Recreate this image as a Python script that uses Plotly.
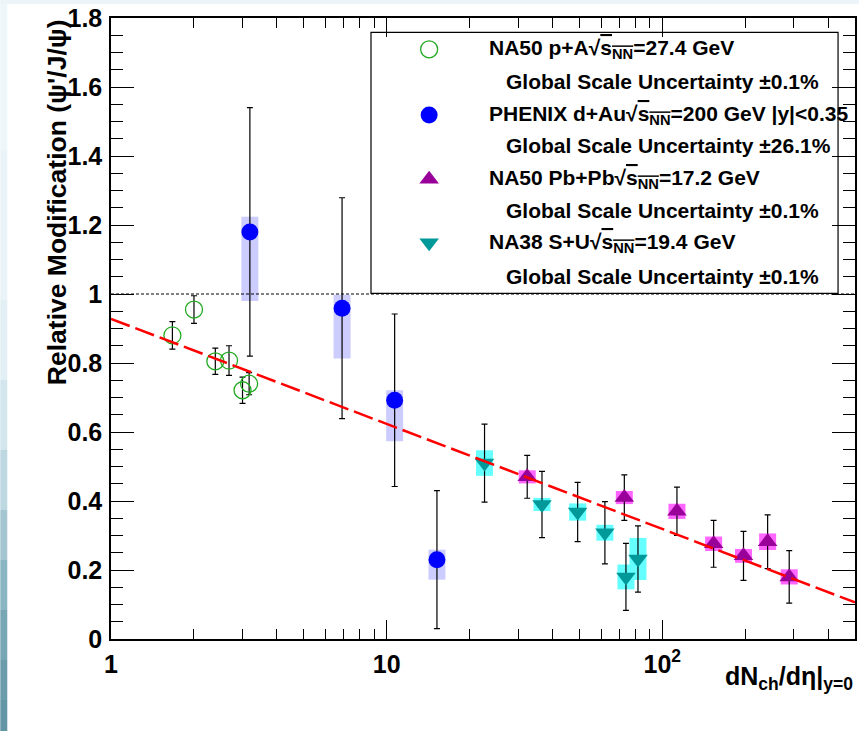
import math
import plotly.graph_objects as go

# ---------------- data ----------------
pA_x = [1.67, 2.00, 2.39, 2.68, 3.00, 3.17]
pA_y = [0.880, 0.955, 0.805, 0.807, 0.721, 0.740]
pA_err = [0.040, 0.040, 0.038, 0.043, 0.038, 0.032]

dAu_x = [3.19, 6.89, 10.69, 15.22]
dAu_y = [1.180, 0.959, 0.692, 0.230]
dAu_err = [0.36, 0.32, 0.25, 0.20]
dAu_sys_hi = [0.044, 0.039, 0.029, 0.029]
dAu_sys_lo = [0.200, 0.146, 0.119, 0.058]

SU_x = [22.65, 36.6, 49.3, 61.9, 73.8, 81.6]
SU_y = [0.51, 0.39, 0.368, 0.308, 0.18, 0.232]
SU_err = [0.113, 0.096, 0.086, 0.090, 0.097, 0.096]
SU_sys = [0.037, 0.019, 0.025, 0.023, 0.036, 0.061]

PbPb_x = [32.35, 72.8, 113, 153.5, 197, 241, 288.6]
PbPb_y = [0.47, 0.41, 0.37, 0.276, 0.241, 0.282, 0.18]
PbPb_err = [0.062, 0.066, 0.070, 0.068, 0.071, 0.078, 0.076]
PbPb_sys = [0.019, 0.019, 0.022, 0.021, 0.020, 0.024, 0.022]

fit_x = [1, 500]
fit_y = [0.928, 0.106]
ref_x = [1, 500]
ref_y = [1.0, 1.0]

x_tickvals = [1, 10, 100]
x_ticktext = ["1", "10", "10<sup>2</sup>"]
x_minor = [2, 3, 4, 5, 6, 7, 8, 9, 20, 30, 40, 50, 60, 70, 80, 90, 200, 300, 400]

legend_labels = [
    "NA50 p+A\u221a<span style='text-decoration:overline'>s<sub>NN</sub></span>=27.4 GeV",
    "PHENIX d+Au\u221a<span style='text-decoration:overline'>s<sub>NN</sub></span>=200 GeV |y|<0.35",
    "NA50 Pb+Pb\u221a<span style='text-decoration:overline'>s<sub>NN</sub></span>=17.2 GeV",
    "NA38 S+U\u221a<span style='text-decoration:overline'>s<sub>NN</sub></span>=19.4 GeV",
]
legend_unc = [
    "Global Scale Uncertainty \u00b10.1%",
    "Global Scale Uncertainty \u00b126.1%",
    "Global Scale Uncertainty \u00b10.1%",
    "Global Scale Uncertainty \u00b10.1%",
]

# ---------------- styles ----------------
GREEN = "#22aa22"
BLUE = "#0000ff"
BLUE_BOX = "#ccccff"
TEAL = "#009999"
CYAN_BOX = "#66ffff"
PURPLE = "#990099"
MAG_BOX = "#ff66ff"
FONT = "Liberation Sans"

W, H = 861, 731
ML, MR, MT, MB = 111, 4, 18, 92
PW, PH = W - ML - MR, H - MT - MB


def px2paper(px, py):
    return (px - ML) / PW, (H - MB - py) / PH


fig = go.Figure()


def box_trace(x, y, hi, lo, color):
    return go.Scatter(
        x=x, y=y, mode="markers",
        marker=dict(size=1, color="rgba(0,0,0,0)"),
        error_y=dict(type="data", symmetric=False, array=hi, arrayminus=lo,
                     thickness=17, width=0, color=color),
        showlegend=False, hoverinfo="skip")


# systematic boxes
fig.add_trace(box_trace(dAu_x, dAu_y, dAu_sys_hi, dAu_sys_lo, BLUE_BOX))
fig.add_trace(box_trace(SU_x, SU_y, SU_sys, SU_sys, CYAN_BOX))
fig.add_trace(box_trace(PbPb_x, PbPb_y, PbPb_sys, PbPb_sys, MAG_BOX))

# reference line at 1
fig.add_trace(go.Scatter(x=ref_x, y=ref_y, mode="lines",
                         line=dict(color="black", width=1.2, dash="3px,2px"),
                         hoverinfo="skip"))


def data_trace(x, y, err, symbol, color, size, lw=0):
    return go.Scatter(
        x=x, y=y, mode="markers",
        marker=dict(symbol=symbol, size=size, color=color,
                    line=dict(width=lw, color=color)),
        error_y=dict(type="data", array=err, thickness=1.2, width=3, color="black"),
        hoverinfo="skip")


fig.add_trace(data_trace(pA_x, pA_y, pA_err, "circle-open", GREEN, 17, 1.3))
fig.add_trace(data_trace(dAu_x, dAu_y, dAu_err, "circle", BLUE, 17))
fig.add_trace(data_trace(SU_x, SU_y, SU_err, "triangle-down", TEAL, 17))
fig.add_trace(data_trace(PbPb_x, PbPb_y, PbPb_err, "triangle-up", PURPLE, 17))

# fit line
fig.add_trace(go.Scatter(x=fit_x, y=fit_y, mode="lines",
                         line=dict(color="#ff0000", width=2.5, dash="20px,6px"),
                         hoverinfo="skip"))

# ---------------- legend (custom box) ----------------
lx0, ly0 = px2paper(371.7, 293.3)
lx1, ly1 = px2paper(840, 32.3)
fig.add_shape(type="rect", xref="paper", yref="paper", x0=lx0, y0=ly0, x1=lx1, y1=ly1,
              line=dict(color="black", width=1.2), fillcolor="rgba(0,0,0,0)", layer="above")

row_y = [49.3, 115, 179.3, 242.7]
row2_y = [81.7, 145, 210.7, 276]
leg_sym = [("circle-open", GREEN, 17, 1.3), ("circle", BLUE, 17, 0),
           ("triangle-up", PURPLE, 17, 0), ("triangle-down", TEAL, 17, 0)]
mk_x = px2paper(430, 0)[0]
for i in range(4):
    sym, col, sz, lw = leg_sym[i]
    yy = px2paper(0, row_y[i])[1]
    fig.add_trace(go.Scatter(x=[mk_x], y=[yy], xaxis="x2", yaxis="y2", mode="markers",
                             marker=dict(symbol=sym, size=sz, color=col,
                                         line=dict(width=lw, color=col)),
                             hoverinfo="skip"))
    fig.add_annotation(xref="paper", yref="paper", x=px2paper(488, 0)[0], y=yy,
                       xanchor="left", yanchor="middle", text=legend_labels[i],
                       showarrow=False, font=dict(family=FONT, size=21, color="black", weight="bold"))
    fig.add_annotation(xref="paper", yref="paper", x=px2paper(505, 0)[0],
                       y=px2paper(0, row2_y[i])[1],
                       xanchor="left", yanchor="middle", text=legend_unc[i],
                       showarrow=False, font=dict(family=FONT, size=21, color="black", weight="bold"))

# ---------------- axis titles ----------------
fig.add_annotation(xref="paper", yref="paper", x=px2paper(57, 0)[0], y=px2paper(0, 202)[1],
                   text="Relative Modification (\u03c8'/J/\u03c8)", textangle=-90,
                   showarrow=False, xanchor="center", yanchor="middle",
                   font=dict(family=FONT, size=26.5, color="black", weight="bold"))
fig.add_annotation(xref="paper", yref="paper", x=1.0, y=px2paper(0, 660)[1],
                   text="dN<sub>ch</sub>/d\u03b7|<sub>y=0</sub>", showarrow=False,
                   xanchor="right", yanchor="top",
                   font=dict(family=FONT, size=25, color="black", weight="bold"))

# ---------------- slide decoration (left strip / top strip) ----------------
strip_colors = ["#eef6fa", "#eaf4f8", "#e2eff4", "#d3e6ed", "#bdd8e1",
                "#a3c6d1", "#8ab5c2", "#77a6b5", "#6a9cac", "#6295a6"]
band_edges = [0, 150, 300, 380, 450, 510, 560, 610, 660, 700, 731]
for i, c in enumerate(strip_colors):
    xa, ya0 = px2paper(0, band_edges[i + 1])
    xb, ya1 = px2paper(7, band_edges[i])
    fig.add_shape(type="rect", xref="paper", yref="paper", x0=xa, x1=xb, y0=ya0, y1=ya1,
                  line=dict(width=0), fillcolor=c, layer="below")
tx0, ty0 = px2paper(0, 4)
tx1, ty1 = px2paper(861, 0)
fig.add_shape(type="rect", xref="paper", yref="paper", x0=tx0, x1=tx1, y0=ty0, y1=ty1,
              line=dict(width=0), fillcolor="#eef5f9", layer="below")

# ---------------- layout ----------------
tickfont = dict(family=FONT, size=25, color="black", weight="bold")
fig.update_layout(
    width=W, height=H,
    margin=dict(l=ML, r=MR, t=MT, b=MB),
    paper_bgcolor="white", plot_bgcolor="white",
    showlegend=False,
    xaxis=dict(type="log", range=[0, math.log10(500)], showgrid=False, zeroline=False,
               showline=True, linecolor="black", linewidth=1.5, mirror="ticks",
               ticks="inside", ticklen=19, tickwidth=1.3, tickcolor="black",
               tickvals=x_tickvals, ticktext=x_ticktext, tickfont=tickfont,
               ticklabelstandoff=2,
               minor=dict(ticks="inside", ticklen=10, tickwidth=1.3, tickcolor="black",
                          tickvals=x_minor, showgrid=False)),
    yaxis=dict(range=[0, 1.8], tick0=0, dtick=0.2, showgrid=False, zeroline=False,
               showline=True, linecolor="black", linewidth=1.5, mirror="ticks",
               ticks="inside", ticklen=23, tickwidth=1.3, tickcolor="black",
               tickfont=tickfont, ticklabelstandoff=2,
               minor=dict(ticks="inside", ticklen=12, tickwidth=1.3, tickcolor="black",
                          dtick=0.05, showgrid=False)),
    xaxis2=dict(range=[0, 1], overlaying="x", anchor="y2", visible=False),
    yaxis2=dict(range=[0, 1], overlaying="y", anchor="x2", visible=False),
)

fig.write_html("out.html")
